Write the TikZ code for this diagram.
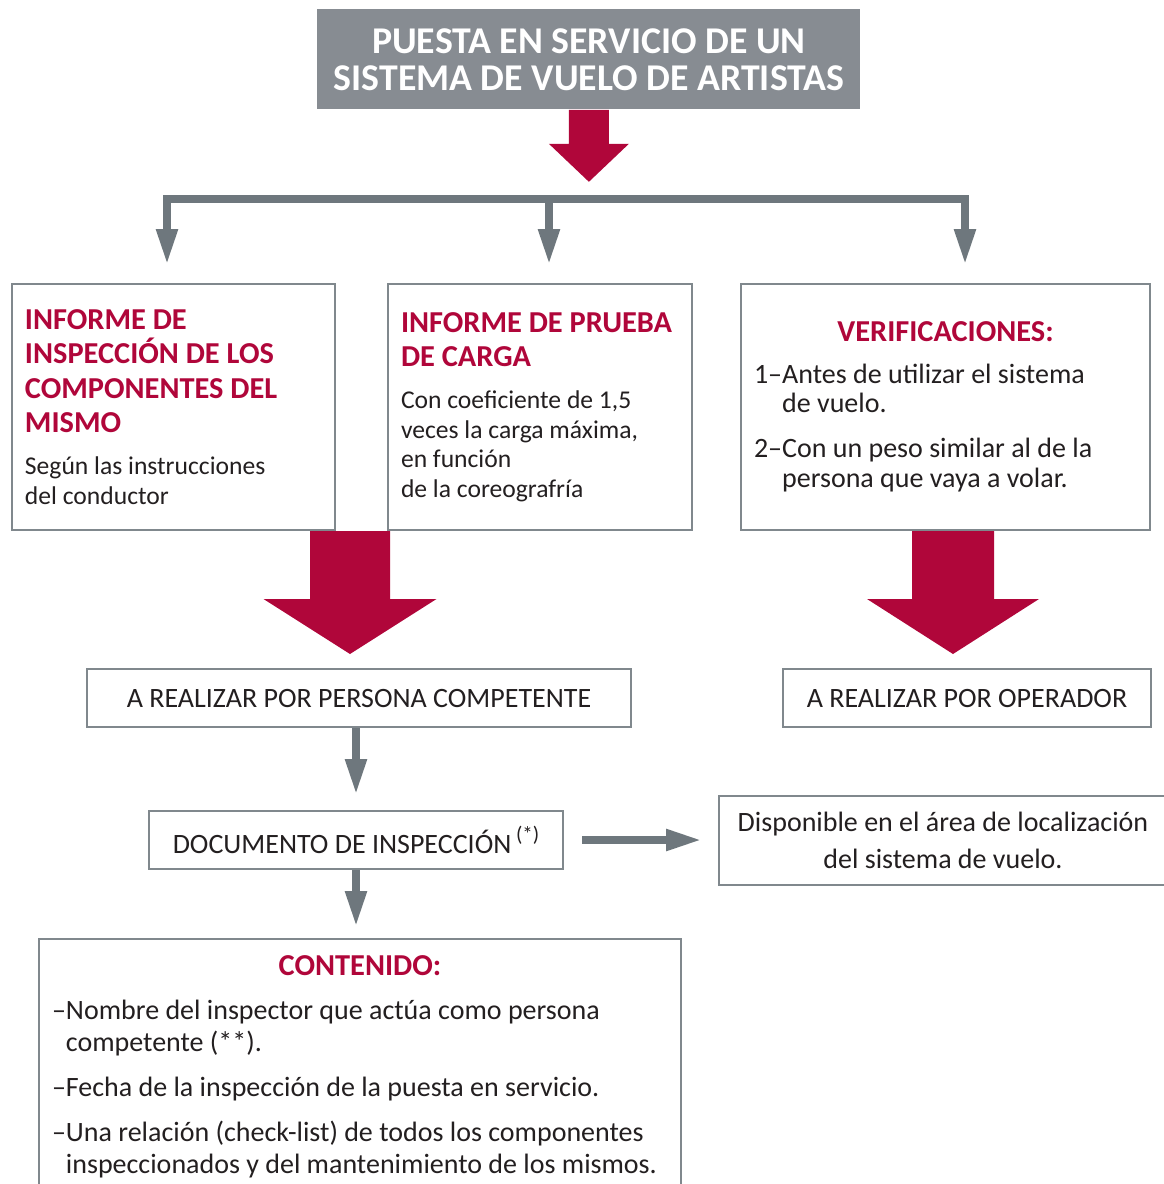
\documentclass[tikz,border=0pt]{standalone}
\usepackage{fontspec}
\setmainfont{Carlito}
\usetikzlibrary{arrows.meta,calc}

\definecolor{crimson}{HTML}{B0063A}
\definecolor{steel}{HTML}{6E777D}
\definecolor{frame}{HTML}{80888D}
\definecolor{titlegray}{HTML}{878C92}
\definecolor{ink}{HTML}{231F20}

\newcommand{\bodyfont}{\fontsize{14pt}{14.75pt}\selectfont}
\newcommand{\smallbody}{\fontsize{12.8pt}{14.75pt}\selectfont}
\newcommand{\headfont}{\fontsize{15.2pt}{17.25pt}\selectfont\bfseries\color{crimson}}
% list line with hanging indent
\newcommand{\hangitem}[2]{\setbox0\hbox{#1}\hangindent\wd0\hangafter1\noindent\box0#2\par}
% red block arrow: start, shaft half, shaft length, head half, head length
\newcommand{\bigarrow}[5]{%
  \fill[crimson] #1 ++(-#2,0) -- ++(0,#3) -- ++(#2-#4,0) -- ++(#4,#5) -- ++(#4,-#5) -- ++(#2-#4,0) -- ++(0,-#3) -- cycle;}

\begin{document}
\begin{tikzpicture}[x=0.5pt, y=-0.5pt,
    box/.style={draw=frame, line width=1pt, fill=white, inner xsep=6.5pt, inner ysep=0pt,
      align=flush left, text=ink, font=\bodyfont, anchor=north west},
    flat/.style={box, align=center, minimum height=29pt},
    garrow/.style={draw=steel, line width=4pt, -{Triangle[width=10pt,length=18pt]}}]
    \useasboundingbox (0,0) rectangle (1163,1184);

    % Title
    \node[fill=titlegray, text=white, font=\fontsize{18.9pt}{18.5pt}\selectfont\bfseries,
      align=center, minimum width=271.5pt, minimum height=50pt, inner sep=0pt,
      anchor=north west] (title) at (317,9) {PUESTA EN SERVICIO DE UN\\SISTEMA DE VUELO DE ARTISTAS};

    % Three reports
    \node[box, font=\smallbody, minimum width=161.5pt, text width=148.5pt, minimum height=123pt] (insp) at (11,283)
      {\parindent0pt{\headfont INFORME DE\\INSPECCIÓN DE LOS\\COMPONENTES DEL\\MISMO\par}\vskip6.25pt
       Según las instrucciones\\del conductor};
    \node[box, font=\smallbody, minimum width=152pt, text width=139pt, minimum height=123pt] (carga) at (387,283)
      {\parindent0pt{\headfont INFORME DE PRUEBA\\DE CARGA\par}\vskip6.25pt
       Con coeficiente de 1,5\\veces la carga máxima,\\en función\\de la coreografría};
    \node[box, minimum width=204.5pt, text width=191.5pt, minimum height=123pt] (verif) at (740,283)
      {\parindent0pt{\centering\headfont VERIFICACIONES:\par}\vskip6pt
       \hangitem{1–}{Antes de utilizar el sistema\newline de vuelo.}\vskip7.75pt
       \hangitem{2–}{Con un peso similar al de la\newline persona que vaya a volar.}};

    % Who does it
    \node[flat, minimum width=272pt] (pers) at (86,668) {A REALIZAR POR PERSONA COMPETENTE};
    \node[flat, minimum width=184pt] (oper) at (782,668) {A REALIZAR POR OPERADOR};

    % Document
    \node[flat, minimum width=207pt] (docu) at (148,810)
      {DOCUMENTO DE INSPECCIÓN\,\raisebox{6pt}{\fontsize{10.5pt}{10.5pt}\selectfont(*)}};
    \node[flat, minimum width=224pt, minimum height=44.5pt, font=\fontsize{14pt}{18.5pt}\selectfont] (disp) at (718,795)
      {Disponible en el área de localización\\del sistema de vuelo.};
    \node[box, font=\fontsize{14pt}{16pt}\selectfont, text width=308pt, inner ysep=8.5pt] (cont) at (38,938)
      {\parindent0pt{\centering\headfont CONTENIDO:\par}\vskip6pt
       \hangitem{–}{Nombre del inspector que actúa como persona\newline competente (**).}\vskip6.5pt
       \hangitem{–}{Fecha de la inspección de la puesta en servicio.}\vskip6.5pt
       \hangitem{–}{Una relación (check-list) de todos los componentes\newline inspeccionados y del mantenimiento de los mismos.}};

    % Red arrows
    \bigarrow{(title.south)}{20}{34}{40}{38}
    \bigarrow{(350,0 |- insp.south)}{40}{68}{86.5}{55}
    \bigarrow{(953,0 |- verif.south)}{41}{68}{86}{55}

    % Splitting bar
    \coordinate (bl) at (167,199);
    \coordinate (bm) at (549,199);
    \coordinate (br) at (965,199);
    \draw[steel, line width=4pt, line cap=rect] (bl) -- (br);
    \draw[garrow, shorten >=9pt] (bl) -- (bl |- insp.north);
    \draw[garrow, shorten >=9pt] (bm) -- (bm |- carga.north);
    \draw[garrow, shorten >=9pt] (br) -- (br |- verif.north);

    % Gray connectors
    \draw[garrow, shorten >=7.5pt] (docu.north |- pers.south) -- (docu.north);
    \draw[garrow, shorten >=5.5pt] (docu.south) -- (docu.south |- cont.north);
    \draw[garrow, shorten <=9pt, shorten >=8pt] (docu.east) -- (docu.east -| disp.west);
\end{tikzpicture}
\end{document}
